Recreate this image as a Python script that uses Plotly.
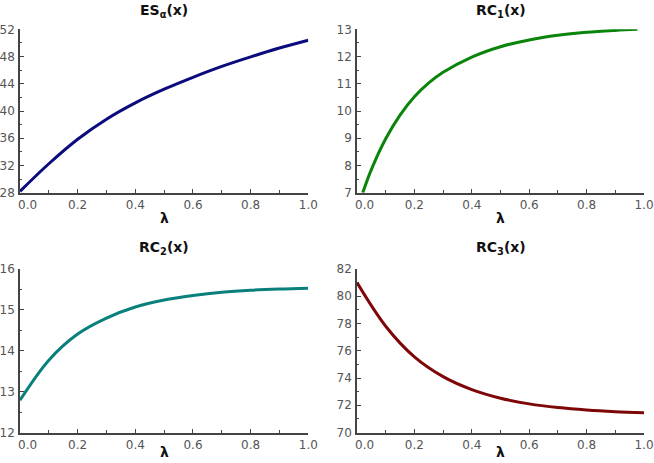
import plotly.graph_objects as go
from plotly.subplots import make_subplots

# lambda grid
lam = [0.0, 0.1, 0.2, 0.3, 0.4, 0.5, 0.6, 0.7, 0.8, 0.9, 1.0]

es_alpha = [28.2, 32.25, 35.85, 38.8, 41.2, 43.2, 44.95, 46.55, 47.95, 49.25, 50.4]

rc1_lam = [0.02, 0.05, 0.1, 0.15, 0.2, 0.25, 0.3, 0.4, 0.5, 0.6, 0.7, 0.8, 0.9, 0.977]
rc1 = [7.0, 7.85, 8.98, 9.85, 10.52, 11.03, 11.42, 11.98, 12.36, 12.61, 12.78, 12.89, 12.96, 13.0]

rc2 = [12.79, 13.77, 14.41, 14.8, 15.07, 15.24, 15.35, 15.43, 15.48, 15.51, 15.53]

rc3 = [81.0, 77.8, 75.55, 74.1, 73.15, 72.52, 72.1, 71.83, 71.65, 71.53, 71.45]

x_ticks = [0.0, 0.2, 0.4, 0.6, 0.8, 1.0]
x_ticktext = ['\u00a0' * 4 + '0.0', '0.2', '0.4', '0.6', '0.8', '1.0']

panels = [
    # (title, x, y, colour, y range, y dtick, y minor dtick)
    ('<b>ES<sub>α</sub>(x)</b>', lam, es_alpha, '#0b0b7e', [28, 52], 4, 2),
    ('<b>RC<sub>1</sub>(x)</b>', rc1_lam, rc1, '#0a840a', [7, 13], 1, 0.5),
    ('<b>RC<sub>2</sub>(x)</b>', lam, rc2, '#0a807c', [12, 16], 1, 0.5),
    ('<b>RC<sub>3</sub>(x)</b>', lam, rc3, '#7e0606', [70, 82], 2, 1),
]

W, H = 654, 463
x_domains = [[20 / W, 308.3 / W], [357 / W, 644 / W]]
y_domains = [[1 - 192.7 / H, 1 - 29.3 / H], [1 - 432.5 / H, 1 - 269 / H]]
title_y = [1 - 11 / H, 1 - 248 / H]
lambda_y = [1 - 218 / H, 1 - 452 / H]

AXIS_COLOR = '#444444'
LABEL_COLOR = '#555555'

fig = make_subplots(rows=2, cols=2)

for i, (title, xs, ys, colour, yrange, ydtick, yminor) in enumerate(panels):
    row, col = i // 2 + 1, i % 2 + 1
    fig.add_trace(
        go.Scatter(
            x=xs,
            y=ys,
            mode='lines',
            line={'color': colour, 'width': 3, 'shape': 'spline', 'smoothing': 1.0},
            showlegend=False,
        ),
        row=row,
        col=col,
    )
    xd = x_domains[col - 1]
    yd = y_domains[row - 1]
    fig.update_xaxes(
        domain=xd,
        range=[0, 1.0],
        tickvals=x_ticks,
        ticktext=x_ticktext,
        ticks='inside',
        ticklen=4,
        tickwidth=1,
        tickcolor=AXIS_COLOR,
        minor={'dtick': 0.1, 'ticks': 'inside', 'ticklen': 2.5, 'tickcolor': AXIS_COLOR},
        showline=True,
        linecolor=AXIS_COLOR,
        linewidth=1.5,
        showgrid=False,
        zeroline=False,
        automargin=False,
        ticklabeloverflow='allow',
        tickfont={'family': 'DejaVu Sans', 'size': 12, 'color': LABEL_COLOR},
        row=row,
        col=col,
    )
    fig.update_yaxes(
        domain=yd,
        range=yrange,
        dtick=ydtick,
        tick0=yrange[0],
        ticks='inside',
        ticklen=4,
        tickwidth=1,
        tickcolor=AXIS_COLOR,
        minor={'dtick': yminor, 'ticks': 'inside', 'ticklen': 2.5, 'tickcolor': AXIS_COLOR},
        showline=True,
        linecolor=AXIS_COLOR,
        linewidth=1.5,
        showgrid=False,
        zeroline=False,
        automargin=False,
        ticklabeloverflow='allow',
        tickfont={'family': 'DejaVu Sans', 'size': 12, 'color': LABEL_COLOR},
        ticklabelstandoff=1,
        row=row,
        col=col,
    )
    fig.add_annotation(
        text=title,
        x=(xd[0] + xd[1]) / 2,
        y=title_y[row - 1],
        xref='paper',
        yref='paper',
        xanchor='center',
        yanchor='middle',
        showarrow=False,
        font={'family': 'DejaVu Sans', 'size': 14, 'color': '#111111'},
    )
    fig.add_annotation(
        text='<b>λ</b>',
        x=(xd[0] + xd[1]) / 2,
        y=lambda_y[row - 1],
        xref='paper',
        yref='paper',
        xanchor='center',
        yanchor='middle',
        showarrow=False,
        font={'family': 'DejaVu Sans', 'size': 14, 'color': '#111111'},
    )

fig.update_layout(
    width=W,
    height=H,
    margin={'l': 0, 'r': 0, 't': 0, 'b': 0},
    paper_bgcolor='white',
    plot_bgcolor='white',
)

# the page's default body margin would push the figure off the window
fig.write_html(
    'out.html',
    config={'displayModeBar': False},
    post_script="document.body.style.margin = '0';",
)
